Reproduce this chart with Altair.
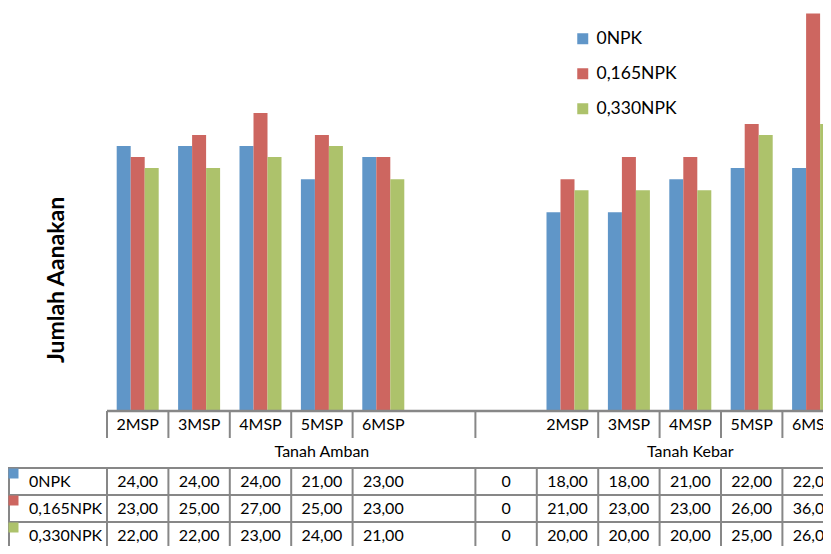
import altair as alt
import pandas as pd

# ---------------- data ----------------
categories = ["2MSP", "3MSP", "4MSP", "5MSP", "6MSP", "", "", "2MSP", "3MSP", "4MSP", "5MSP", "6MSP"]
groups = ["Tanah Amban"] * 6 + ["Tanah Kebar"] * 6
group_names = ["Tanah Amban", "Tanah Kebar"]
series = ["0NPK", "0,165NPK", "0,330NPK"]
values_0npk = [24, 24, 24, 21, 23, None, 0, 18, 18, 21, 22, 22]
values_0165npk = [23, 25, 27, 25, 23, None, 0, 21, 23, 23, 26, 36]
values_0330npk = [22, 22, 23, 24, 21, None, 0, 20, 20, 20, 25, 26]
colors = ["#6096C8", "#CD6660", "#ADC26B"]
y_title = "Jumlah Aanakan"

# ---------------- layout (page pixels) ----------------
W, H = 815, 538
PAGE = 8
CAT_W = 61.4
CAT_X0 = 107
BASE_Y = 411
PX_PER_UNIT = 11.04
ROW0_Y = 481.5
ROW_H = 27
FONT = "Lato"
LINE = "#878787"


def ux(px):
    return (px - CAT_X0) / CAT_W


def ur(py):
    return (py - ROW0_Y) / ROW_H


XMIN, XMAX = ux(PAGE), ux(PAGE + W)
x_scale = alt.Scale(domain=[XMIN, XMAX], nice=False, zero=False)
y_bar = alt.Scale(domain=[(BASE_Y - (PAGE + H)) / PX_PER_UNIT, (BASE_Y - PAGE) / PX_PER_UNIT],
                  nice=False, zero=False)
y_tab = alt.Scale(domain=[ur(PAGE), ur(PAGE + H)], nice=False, zero=False, reverse=True)

# ---------------- frames ----------------
rows = []
for s, (name, vals) in enumerate(zip(series, [values_0npk, values_0165npk, values_0330npk])):
    for i, v in enumerate(vals):
        if v is None:
            lab = ""
        elif v == 0:
            lab = "0"
        else:
            lab = f"{v:.2f}".replace(".", ",")
        rows.append(dict(series=name, s=s, idx=i, value=v, label=lab))
df = pd.DataFrame(rows)
BAR_W = 14 / CAT_W
df["bx0"] = df["idx"] + 0.5 + (df["s"] - 1.5) * BAR_W
df["bx1"] = df["bx0"] + BAR_W
df["cx"] = df["idx"] + 0.5
df_bars = df.dropna(subset=["value"])
df_text = df[df["label"] != ""]

color_scale = alt.Scale(domain=series, range=colors)

bars = alt.Chart(df_bars).mark_rect(clip=True).encode(
    x=alt.X("bx0:Q", scale=x_scale, axis=None),
    x2="bx1",
    y=alt.Y("value:Q", scale=y_bar, axis=None),
    y2=alt.datum(0),
    color=alt.Color("series:N", scale=color_scale, legend=alt.Legend(
        title=None, orient="none", legendX=566, legendY=22, symbolType="square",
        symbolSize=121, symbolStrokeWidth=0, labelFontSize=17.5, labelFont=FONT,
        labelColor="#000000", rowPadding=16, labelOffset=5, padding=0)),
)

axis_line = alt.Chart(pd.DataFrame({"a": [0.0], "b": [XMAX], "y": [0.0]})).mark_rule(
    color=LINE, strokeWidth=2.5).encode(
    x=alt.X("a:Q", scale=x_scale, axis=None), x2="b",
    y=alt.Y("y:Q", scale=y_bar, axis=None))

# header tick separators
header_ticks = [0, 1, 2, 3, 4, 6, 8, 9, 10, 11, 12]
hdr = pd.DataFrame({"x": header_ticks, "y1": ur(BASE_Y), "y2": ur(438)})
header_rules = alt.Chart(hdr).mark_rule(color=LINE, strokeWidth=2).encode(
    x=alt.X("x:Q", scale=x_scale, axis=None),
    y=alt.Y("y1:Q", scale=y_tab, axis=None), y2="y2")

# table grid
table_hlines = [-0.5, 0.5, 1.5, 2.5]
th = pd.DataFrame({"y": table_hlines, "x1": XMIN, "x2": XMAX})
hrules = alt.Chart(th).mark_rule(color=LINE, strokeWidth=2).encode(
    x=alt.X("x1:Q", scale=x_scale, axis=None), x2="x2",
    y=alt.Y("y:Q", scale=y_tab, axis=None))
table_vlines = [XMIN + 1 / CAT_W, 0, 1, 2, 3, 4, 6, 7, 8, 9, 10, 11, 12]
tv = pd.DataFrame({"x": table_vlines, "y1": -0.5, "y2": 2.5})
vrules = alt.Chart(tv).mark_rule(color=LINE, strokeWidth=2).encode(
    x=alt.X("x:Q", scale=x_scale, axis=None),
    y=alt.Y("y1:Q", scale=y_tab, axis=None), y2="y2")

# category labels
dcat = pd.DataFrame({"x": [i + 0.5 for i in range(len(categories))], "t": categories,
                     "y": ur(424.5)})
dcat = dcat[dcat["t"] != ""]
cat_text = alt.Chart(dcat).mark_text(font=FONT, fontSize=16, color="#000000", baseline="middle").encode(
    x=alt.X("x:Q", scale=x_scale, axis=None),
    y=alt.Y("y:Q", scale=y_tab, axis=None), text="t:N")

# group labels
dgrp = pd.DataFrame({"x": [groups.index(g) + 3.5 for g in group_names], "t": group_names,
                     "y": ur(452)})
grp_text = alt.Chart(dgrp).mark_text(font=FONT, fontSize=16, color="#000000", baseline="middle").encode(
    x=alt.X("x:Q", scale=x_scale, axis=None),
    y=alt.Y("y:Q", scale=y_tab, axis=None), text="t:N")

# row labels and key squares
drow = pd.DataFrame({"series": series, "s": list(range(len(series)))})
drow["x"] = ux(29)
drow["kx"] = ux(13.5)
drow["ky"] = drow["s"] + ur(ROW0_Y - 8)
row_text = alt.Chart(drow).mark_text(font=FONT, fontSize=16, color="#000000", align="left",
                                     baseline="middle").encode(
    x=alt.X("x:Q", scale=x_scale, axis=None),
    y=alt.Y("s:Q", scale=y_tab, axis=None), text="series:N")
keys = alt.Chart(drow).mark_square(size=100, opacity=1).encode(
    x=alt.X("kx:Q", scale=x_scale, axis=None),
    y=alt.Y("ky:Q", scale=y_tab, axis=None),
    color=alt.Color("series:N", scale=color_scale, legend=None))

# values
val_text = alt.Chart(df_text).mark_text(font=FONT, fontSize=16, color="#000000", baseline="middle",
                                        clip=True).encode(
    x=alt.X("cx:Q", scale=x_scale, axis=None),
    y=alt.Y("s:Q", scale=y_tab, axis=None), text="label:N")

# y title
title = alt.Chart(pd.DataFrame({"t": [y_title]})).mark_text(
    font=FONT, fontSize=23, fontWeight="bold", angle=270, color="#000000", baseline="middle").encode(
    x=alt.value(57 - PAGE), y=alt.value(280 - PAGE), text="t:N")

chart = alt.layer(
    bars, axis_line, header_rules, hrules, vrules, cat_text, grp_text, row_text, keys, val_text, title
).resolve_scale(y="independent").properties(
    width=W, height=H, autosize=alt.AutoSizeParams(type="none"), padding=0
).configure_view(stroke=None)

chart.save("out.html", embed_options={"renderer": "svg", "actions": False})
